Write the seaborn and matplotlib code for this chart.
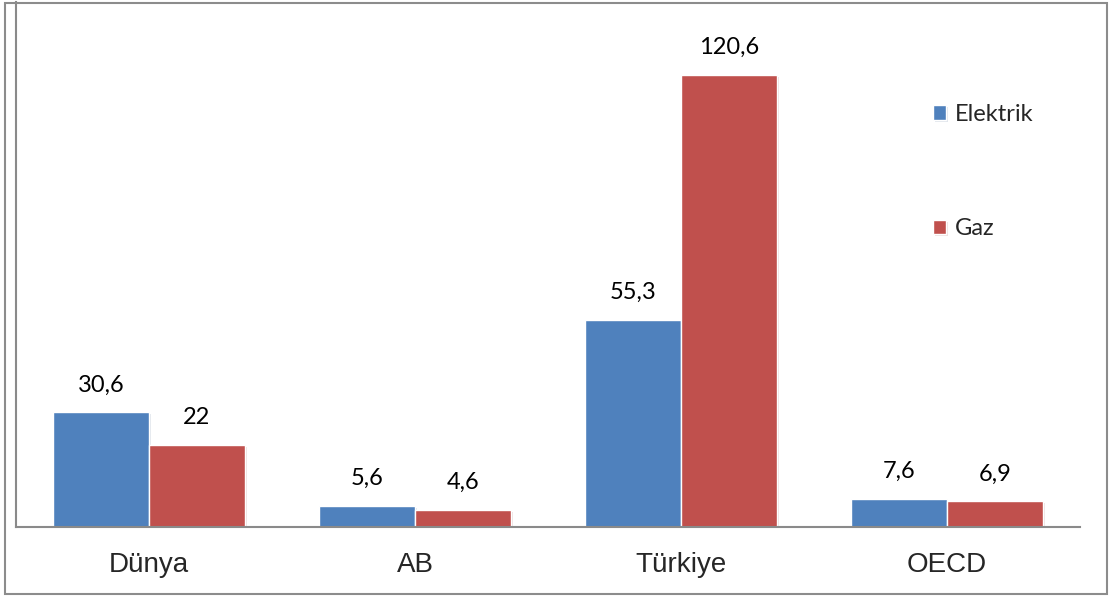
import matplotlib
matplotlib.use("Agg")
import matplotlib.pyplot as plt
import matplotlib.patheffects as pe
from matplotlib.patches import Rectangle
import seaborn as sns
import pandas as pd

categories = ["Dünya", "AB", "Türkiye", "OECD"]
series = ["Elektrik", "Gaz"]
elektrik = [30.6, 5.6, 55.3, 7.6]
gaz = [22, 4.6, 120.6, 6.9]
colors = ["#4F81BD", "#C0504D"]

df = pd.DataFrame({
    "ulke": categories * 2,
    "seri": [series[0]] * 4 + [series[1]] * 4,
    "deger": elektrik + gaz,
})

sns.set_style("white")
fig = plt.figure(figsize=(11.09, 5.97), dpi=100)
ax = fig.add_axes([16 / 1109, 1 - 527 / 597, (1080 - 16) / 1109, (527 - 2) / 597])

sns.barplot(data=df, x="ulke", y="deger", hue="seri", order=categories,
            hue_order=series, palette=colors, width=0.72, gap=0,
            saturation=1, edgecolor="white", linewidth=1, ax=ax)

for p in ax.patches:
    p.set_path_effects([pe.SimplePatchShadow(offset=(1.5, -1.5), alpha=0.15, rho=0.7), pe.Normal()])

def fmt(v):
    s = f"{v:g}"
    return s.replace(".", ",")

for cont in ax.containers:
    ax.bar_label(cont, labels=[fmt(v) for v in cont.datavalues], padding=12,
                 fontsize=17, family=["Lato", "DejaVu Sans"], color="black")

ax.set_ylim(0, 140)
ax.set_yticks([])
ax.set_xlabel("")
ax.set_ylabel("")
ax.tick_params(axis="x", length=0, pad=18, labelsize=20)
for lab in ax.get_xticklabels():
    lab.set_fontfamily(["Liberation Sans", "DejaVu Sans"])

for s in ["top", "right"]:
    ax.spines[s].set_visible(False)
for s in ["left", "bottom"]:
    ax.spines[s].set_color("#8a8a8a")
    ax.spines[s].set_linewidth(1.5)

leg = ax.legend(loc="upper left", bbox_to_anchor=(921 / 1109, 1 - 92 / 597),
                bbox_transform=fig.transFigure, frameon=False, fontsize=17,
                handlelength=0.55, handleheight=0.55, handletextpad=0.4,
                labelspacing=3.95, borderpad=0)
for t in leg.get_texts():
    t.set_fontfamily(["Lato", "DejaVu Sans"])

fig.patches.append(Rectangle((5 / 1109, 3 / 597), 1102 / 1109, 591 / 597,
                             transform=fig.transFigure, fill=False,
                             edgecolor="#8c8c8c", linewidth=1.5))

fig.savefig("out.png", dpi=100)
